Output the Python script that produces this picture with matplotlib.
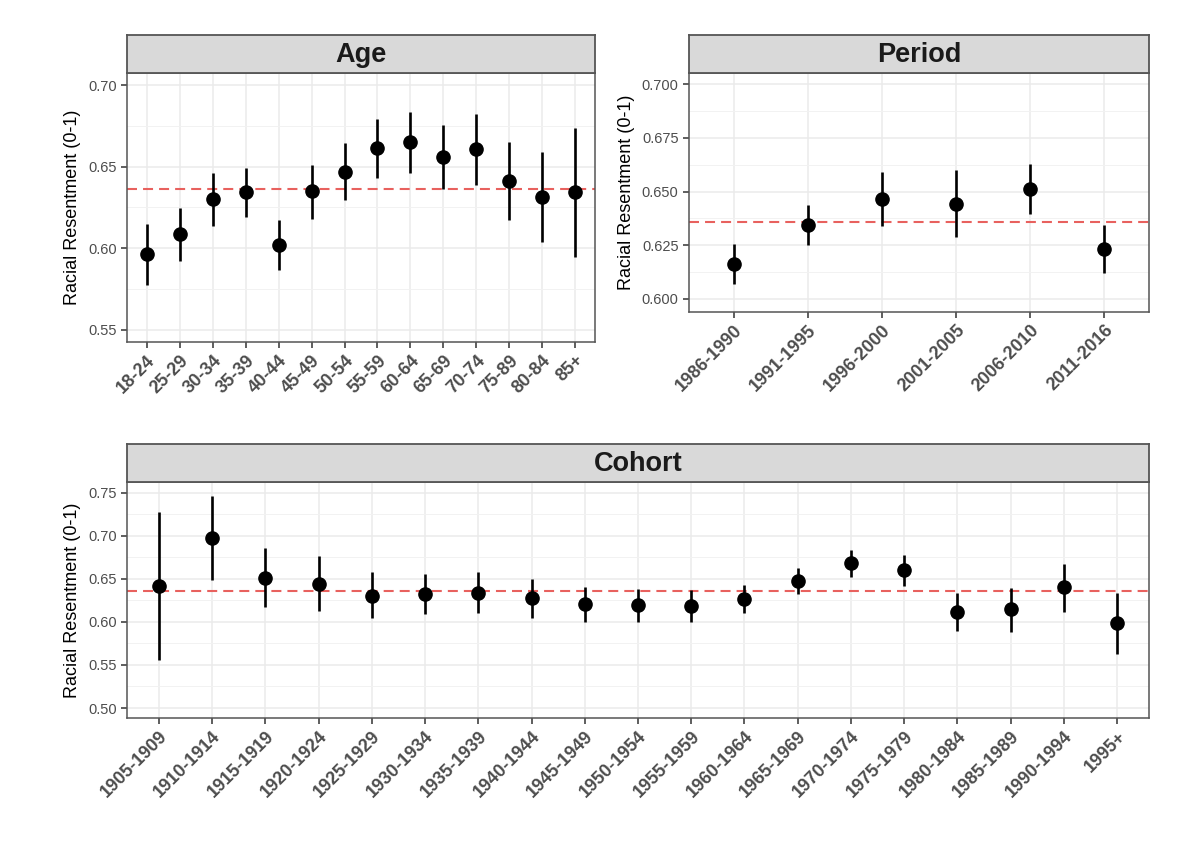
import matplotlib
matplotlib.use("Agg")
import matplotlib.pyplot as plt
from matplotlib.ticker import MultipleLocator, FormatStrFormatter
import numpy as np

plt.rcParams['font.family'] = ['Liberation Sans', 'DejaVu Sans']

# ---------------- data ----------------
age_labels = ["18-24", "25-29", "30-34", "35-39", "40-44", "45-49", "50-54",
              "55-59", "60-64", "65-69", "70-74", "75-89", "80-84", "85+"]
age_est = [0.5965, 0.6087, 0.6300, 0.6344, 0.6020, 0.6349, 0.6467,
           0.6612, 0.6653, 0.6560, 0.6606, 0.6414, 0.6312, 0.6343]
age_lo = [0.5776, 0.5922, 0.6138, 0.6192, 0.5863, 0.6180, 0.6296,
          0.6432, 0.6459, 0.6365, 0.6388, 0.6173, 0.6040, 0.5945]
age_hi = [0.6149, 0.6248, 0.6459, 0.6494, 0.6173, 0.6511, 0.6643,
          0.6791, 0.6837, 0.6754, 0.6824, 0.6653, 0.6590, 0.6740]

period_labels = ["1986-1990", "1991-1995", "1996-2000", "2001-2005",
                 "2006-2010", "2011-2016"]
period_est = [0.6164, 0.6343, 0.6463, 0.6444, 0.6512, 0.6233]
period_lo = [0.6070, 0.6251, 0.6337, 0.6290, 0.6396, 0.6120]
period_hi = [0.6257, 0.6436, 0.6592, 0.6600, 0.6627, 0.6346]

cohort_labels = ["1905-1909", "1910-1914", "1915-1919", "1920-1924",
                 "1925-1929", "1930-1934", "1935-1939", "1940-1944",
                 "1945-1949", "1950-1954", "1955-1959", "1960-1964",
                 "1965-1969", "1970-1974", "1975-1979", "1980-1984",
                 "1985-1989", "1990-1994", "1995+"]
cohort_est = [0.6415, 0.6973, 0.6508, 0.6442, 0.6302, 0.6326, 0.6340,
              0.6275, 0.6209, 0.6194, 0.6182, 0.6271, 0.6473, 0.6682,
              0.6605, 0.6120, 0.6147, 0.6403, 0.5985]
cohort_lo = [0.5558, 0.6488, 0.6170, 0.6132, 0.6043, 0.6093, 0.6109,
             0.6043, 0.6004, 0.6004, 0.6004, 0.6109, 0.6326, 0.6527,
             0.6419, 0.5895, 0.5887, 0.6120, 0.5624]
cohort_hi = [0.7271, 0.7460, 0.6857, 0.6760, 0.6574, 0.6558, 0.6585,
             0.6504, 0.6410, 0.6380, 0.6372, 0.6430, 0.6624, 0.6837,
             0.6779, 0.6334, 0.6391, 0.6671, 0.6340]

mean_line = 0.636
ylabel = "Racial Resentment (0-1)"

# ---------------- figure ----------------
W, H = 1200, 841
fig = plt.figure(figsize=(W / 100, H / 100), dpi=100)

def rect(x0, y0, x1, y1):
    return [x0 / W, 1 - y1 / H, (x1 - x0) / W, (y1 - y0) / H]

border_col = "#333333"
grid_col = "#EBEBEB"

def panel(plot_box, strip_box, labels, est, lo, hi, ylim, major, minor, fmt, title, ylab_pad):
    ax = fig.add_axes(rect(*plot_box))
    n = len(labels)
    x = np.arange(n)
    ax.set_xlim(-0.6, n - 1 + 0.6)
    ax.set_ylim(*ylim)
    ax.yaxis.set_major_locator(MultipleLocator(major))
    ax.yaxis.set_minor_locator(MultipleLocator(minor))
    ax.yaxis.set_major_formatter(FormatStrFormatter(fmt))
    ax.set_xticks(x)
    ax.set_xticklabels(labels, rotation=45, ha="right", rotation_mode="anchor",
                       fontsize=13, fontweight="bold", color="#4D4D4D")
    ax.grid(True, which="major", color=grid_col, lw=1.1, zorder=0)
    ax.grid(True, which="minor", axis="y", color="#F2F2F2", lw=0.7, zorder=0)
    ax.set_axisbelow(True)
    ax.tick_params(axis="y", which="minor", length=0)
    ax.tick_params(axis="both", which="major", length=4, width=1.1, color=border_col)
    ax.tick_params(axis="y", labelsize=10.5, labelcolor="#4D4D4D")
    ax.tick_params(axis="x", pad=3)
    for s in ax.spines.values():
        s.set_color("#555555")
        s.set_linewidth(1.1)
    ax.axhline(mean_line, color="#E8615E", lw=1.5, dashes=(4.8, 2.9), zorder=2)
    ax.vlines(x, lo, hi, color="black", lw=1.9, zorder=3)
    ax.plot(x, est, "o", color="black", ms=9.5, zorder=4)
    ax.set_ylabel(ylabel, fontsize=13, color="black", labelpad=ylab_pad)

    sax = fig.add_axes(rect(*strip_box))
    sax.set_facecolor("#D9D9D9")
    sax.set_xticks([]); sax.set_yticks([])
    for s in sax.spines.values():
        s.set_color("#555555")
        s.set_linewidth(1.3)
    sax.text(0.5, 0.47, title, transform=sax.transAxes, ha="center", va="center",
             fontsize=19.5, fontweight="bold", color="#1A1A1A")
    return ax

panel((127, 73, 595, 342), (127, 35, 595, 73), age_labels, age_est, age_lo, age_hi,
      (0.5424, 0.7075), 0.05, 0.025, "%.2f", "Age", 5)
panel((689, 73, 1149, 312), (689, 35, 1149, 73), period_labels, period_est, period_lo, period_hi,
      (0.5938, 0.7053), 0.025, 0.0125, "%.3f", "Period", 5)
panel((127, 482, 1149, 718), (127, 444, 1149, 482), cohort_labels, cohort_est, cohort_lo, cohort_hi,
      (0.4884, 0.7625), 0.05, 0.025, "%.2f", "Cohort", 5)

fig.savefig("out.png", dpi=100, facecolor="white")
